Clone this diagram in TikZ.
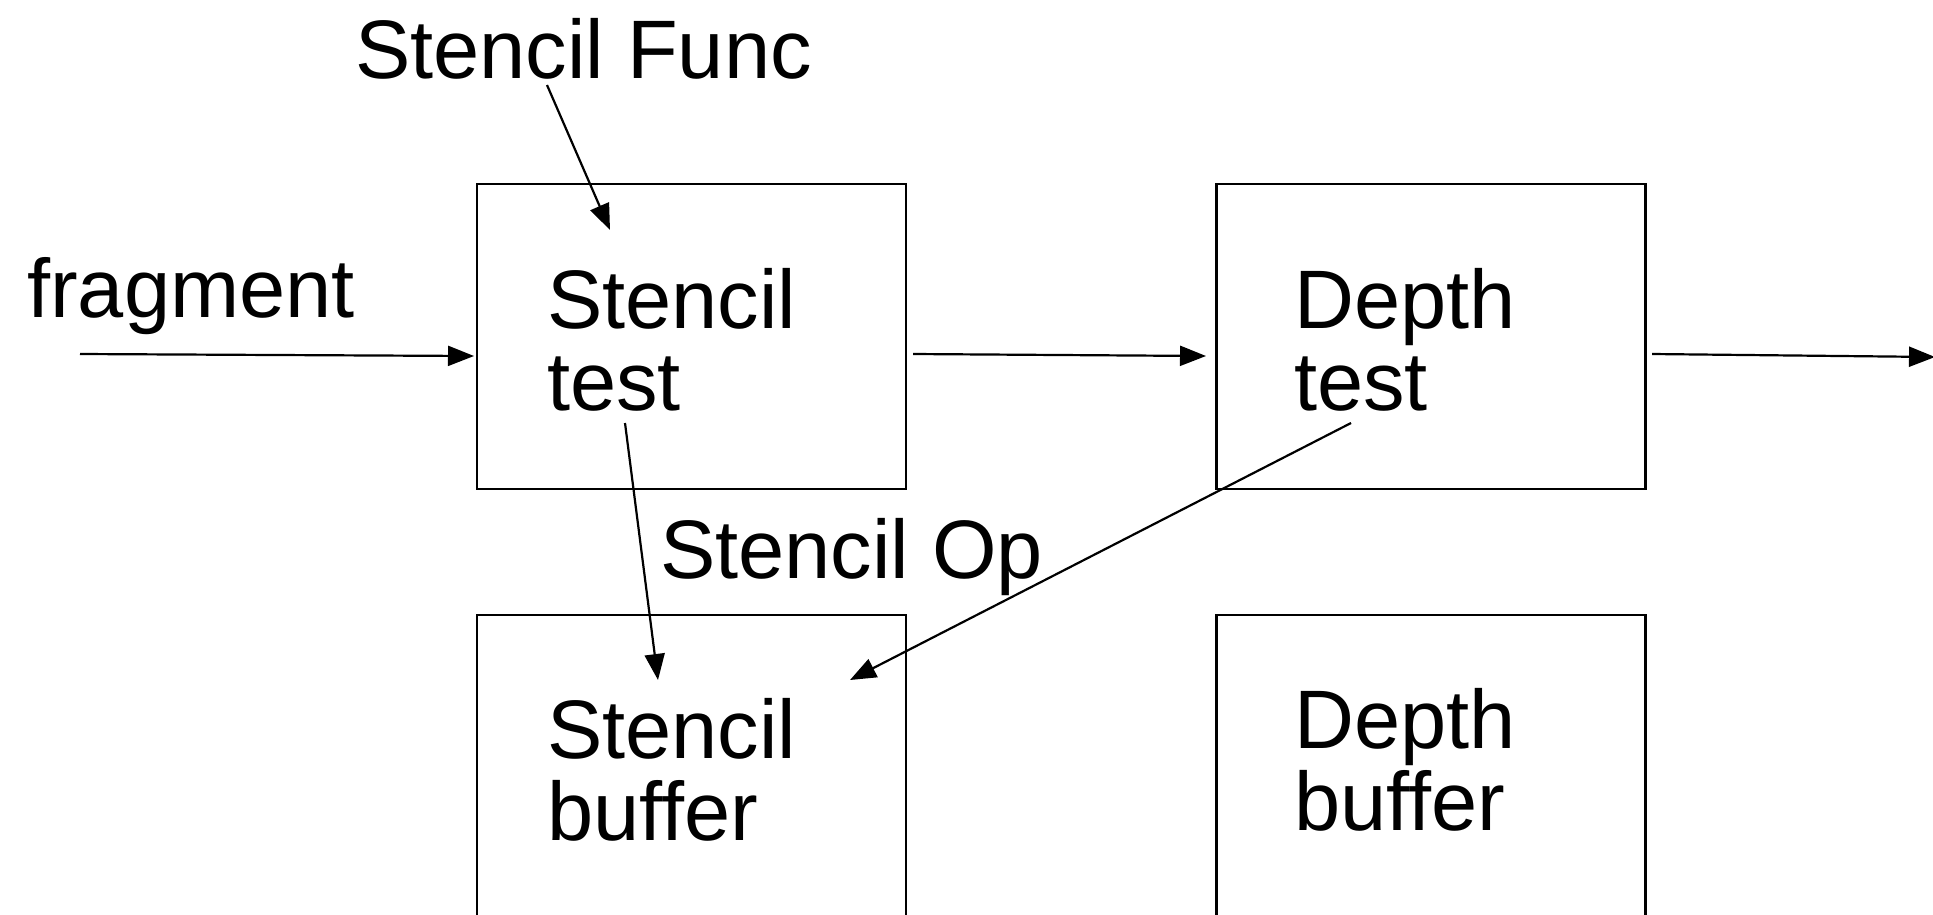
\documentclass[tikz,border=0pt]{standalone}
\usepackage{fontspec}
\setmainfont{Liberation Sans}
\usetikzlibrary{arrows.meta}
\tikzset{
  lbl/.style={font=\fontsize{83}{82}\selectfont, inner sep=0pt, anchor=base west, align=left},
  box/.style={draw, line width=2.5pt, minimum width=429pt, minimum height=305pt, inner sep=0pt},
  conn/.style={line width=2.2pt, -{Triangle[length=26pt,width=20pt]}}
}
\begin{document}
\begin{tikzpicture}[x=1pt,y=-1pt]
\useasboundingbox (0,0) rectangle (1933,914);
\clip (0,0) rectangle (1933,914);
% boxes
\node[box] (stest) at (691.5,336.5) {};
\node[box] (dtest) at (1431,336.5) {};
\node[box] (sbuf) at (691.5,767.5) {};
\node[box] (dbuf) at (1431,767.5) {};
% texts (anchor = baseline of last line)
\node[lbl] (stestT) at (547,410) {Stencil\\test};
\node[lbl] (dtestT) at (1294,410) {Depth\\test};
\node[lbl] (sbufT) at (547,840) {Stencil\\buffer};
\node[lbl] (dbufT) at (1294,830) {Depth\\buffer};
\node[lbl] (sfunc) at (355,78) {Stencil Func};
\node[lbl] (sop) at (660,578) {Stencil Op};
\node[lbl] (frag) at (27,317) {fragment};
% connector end points
\coordinate (fa) at (80,354);   \coordinate (fb) at (474,356);
\coordinate (sa) at (913,354);  \coordinate (sb) at (1206,356);
\coordinate (da) at (1652,354); \coordinate (db) at (1935,357);
\coordinate (ffa) at (547,85);  \coordinate (ffb) at (610,230);
\coordinate (oa) at (625,423);  \coordinate (ob) at (658,680);
\coordinate (pa) at (1351,423); \coordinate (pb) at (850,680);
% connectors
\draw[conn] (fa) -- (fb);
\draw[conn] (sa) -- (sb);
\draw[conn] (da) -- (db);
\draw[conn] (ffa) -- (ffb);
\draw[conn] (oa) -- (ob);
\draw[conn] (pa) -- (pb);
\end{tikzpicture}
\end{document}
